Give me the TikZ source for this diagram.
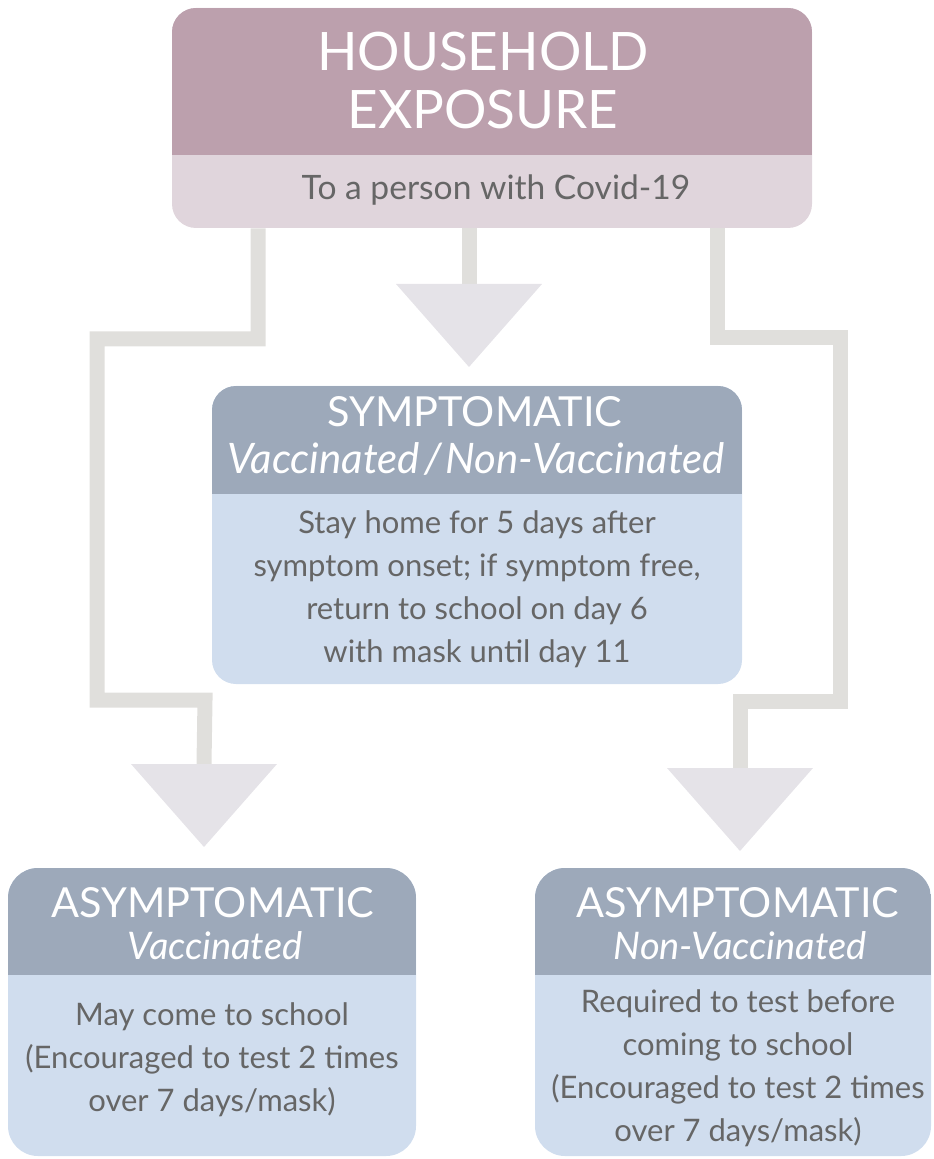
\documentclass[tikz,border=0pt]{standalone}
\usepackage{fontspec}
\setmainfont{Lato}
\usetikzlibrary{positioning}
\definecolor{mauve}{RGB}{188,160,173}
\definecolor{mauvelt}{RGB}{224,213,220}
\definecolor{slate}{RGB}{157,169,186}
\definecolor{slatelt}{RGB}{208,221,238}
\definecolor{linkcol}{RGB}{224,223,220}
\definecolor{tipcol}{RGB}{229,227,232}
\definecolor{txtcol}{RGB}{102,102,102}
\tikzstyle{link}=[line width=7.5pt,linkcol]
\tikzstyle{tip}=[fill=tipcol,draw=none]
\newcommand\downtip[1]{\fill[tip] (#1) ++(-73,0) -- ++(146,0) -- ++(-73,83) -- cycle;}

\begin{document}
\begin{tikzpicture}[x=0.5pt,y=-0.5pt,
                    BOX/.style n args={3}{
                              draw=none, fill=#2, rounded corners=12pt, inner sep=0pt,
                              path picture={\fill[#1, sharp corners] (path picture bounding box.north west)
                                        rectangle ([yshift=-#3]path picture bounding box.north east);}},
                    HEAD/.style = {white, align=center, inner sep=0pt},
                    BODY/.style = {txtcol, align=center, inner sep=0pt,
                              font=\fontsize{15.5}{21.5}\selectfont}
               ]
               \useasboundingbox (0,0) rectangle (933,1159);
               % boxes
               \node[BOX={mauve}{mauvelt}{73.5pt}, minimum width=320pt, minimum height=110pt] (house) at (492,118) {};
               \node[BOX={slate}{slatelt}{54pt}, minimum width=265pt, minimum height=149pt] (sympt) at (477,535) {};
               \node[BOX={slate}{slatelt}{53.5pt}, minimum width=204pt, minimum height=144pt, rounded corners=15pt] (asymV) at (212,1012) {};
               \node[BOX={slate}{slatelt}{53.5pt}, minimum width=198pt, minimum height=144pt, rounded corners=15pt] (asymN) at (733,1012) {};

               % arrow tips
               \coordinate (tipM) at (469,284);
               \coordinate (tipL) at (204,764);
               \coordinate (tipR) at (740,768);

               % connectors
               \draw[link] (house.south -| 258,0) |- (97,339) |- (205,700) -- (tipL);
               \draw[link] (house.south -| 469,0) -- (tipM);
               \draw[link] (house.south -| 717,0) |- (840,338) |- (740,701) -- (tipR);
               \downtip{tipM}
               \downtip{tipL}
               \downtip{tipR}

               % texts
               \node[HEAD, font=\fontsize{26.5}{29}\selectfont] (houseT) at (483,81) {HOUSEHOLD\\EXPOSURE};
               \node[BODY, font=\fontsize{16.8}{19}\selectfont] (houseS) at (496,190) {To a person with Covid-19};

               \node[HEAD, font=\fontsize{20.7}{22}\selectfont] (symptT) at (475,412) {SYMPTOMATIC};
               \node[HEAD, font=\fontsize{21}{22}\selectfont\itshape] (symptV) at (476,459) {Vaccinated\kern2pt/\kern2pt Non-Vaccinated};
               \node[BODY] (symptB) at (477,589) {Stay home for 5 days after\\symptom onset; if symptom free,\\return to school on day 6\\with mask until day 11};

               \node[HEAD, font=\fontsize{20.7}{22}\selectfont] (asymVT) at (213,903) {ASYMPTOMATIC};
               \node[HEAD, font=\fontsize{19}{22}\selectfont\itshape] (asymVV) at (215,946) {Vaccinated};
               \node[BODY] (asymVB) at (212,1060) {May come to school\\(Encouraged to test 2 times\\over 7 days/mask)};

               \node[HEAD, font=\fontsize{20.7}{22}\selectfont] (asymNT) at (738,903) {ASYMPTOMATIC};
               \node[HEAD, font=\fontsize{19}{22}\selectfont\itshape] (asymNV) at (740,946) {Non-Vaccinated};
               \node[BODY] (asymNB) at (738,1068) {Required to test before\\coming to school\\(Encouraged to test 2 times\\over 7 days/mask)};
          \end{tikzpicture}
\end{document}
